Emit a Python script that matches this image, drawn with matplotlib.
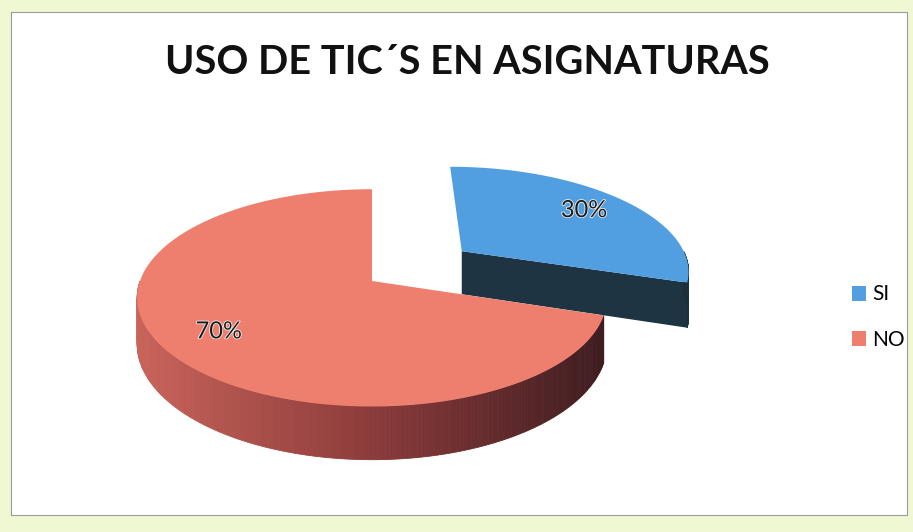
import numpy as np
import matplotlib
matplotlib.use('Agg')
import matplotlib.pyplot as plt
from matplotlib.patches import Polygon, Rectangle, Patch
from matplotlib.colors import LinearSegmentedColormap
import matplotlib.patheffects as pe

# chart data
categories = ['SI', 'NO']
values = [30, 70]
explode = [0.5, 0.0]
top_colors = ['#519fe1', '#ee7f6e']
title = 'USO DE TIC´S EN ASIGNATURAS'

# layout of the 3d pie, in pixels of the 913x532 picture
CX, CY = 372, 281      # centre of the top face
RX, RY = 232, 106      # radii
K = 0.155              # perspective strength
H = 45                 # thickness
LABEL_R = 0.76

side_no = LinearSegmentedColormap.from_list('side_no', ['#c9645a', '#8c3b3b', '#3d1c20'])
side_si = LinearSegmentedColormap.from_list('side_si', ['#22394a', '#1c2f3a'])
side_maps = [side_si, side_no]


def proj(X, Y, Z=0.0):
    # X right, Y toward viewer, Z up (top face at 0, bottom at -1)
    w = 1.0 / (1.0 - K * Y)
    return CX + RX * X * w, CY + (RY * Y - H * Z) * w


fig = plt.figure(figsize=(9.13, 5.32), dpi=100, facecolor='#eff7d3')
ax = fig.add_axes([0, 0, 1, 1])
ax.set_xlim(0, 913)
ax.set_ylim(532, 0)
ax.axis('off')
ax.add_patch(Rectangle((11, 12), 896, 503, facecolor='white', edgecolor='#9a9a9a', lw=0.8))

# slice geometry: start at 12 o'clock, go clockwise
total = float(sum(values))
slices = []
start = 90.0
for i, v in enumerate(values):
    a0 = start
    a1 = start - v / total * 360.0
    mid = np.radians((a0 + a1) / 2)
    ox = explode[i] * np.cos(mid)
    oy = -explode[i] * np.sin(mid)
    slices.append(dict(i=i, a0=a0, a1=a1, mid=mid, ox=ox, oy=oy))
    start = a1

# draw back slices first
for s in sorted(slices, key=lambda d: d['oy']):
    i, a0, a1, ox, oy = s['i'], s['a0'], s['a1'], s['ox'], s['oy']
    th = np.radians(np.linspace(a1, a0, 300))
    rimX = ox + np.cos(th)
    rimY = oy - np.sin(th)
    cmap = side_maps[i]

    # radial wall on the a1 edge
    if np.cos(np.radians(a1)) > 1e-6:
        ex, ey = ox + np.cos(np.radians(a1)), oy - np.sin(np.radians(a1))
        pts = [proj(ox, oy, 0), proj(ex, ey, 0), proj(ex, ey, -1), proj(ox, oy, -1)]
        ax.add_patch(Polygon(pts, closed=True, facecolor=cmap(0.5), edgecolor='none', zorder=2))
    # radial wall on the a0 edge
    if -np.cos(np.radians(a0)) > 1e-6:
        ex, ey = ox + np.cos(np.radians(a0)), oy - np.sin(np.radians(a0))
        pts = [proj(ox, oy, 0), proj(ex, ey, 0), proj(ex, ey, -1), proj(ox, oy, -1)]
        ax.add_patch(Polygon(pts, closed=True, facecolor=cmap(0.5), edgecolor='none', zorder=2))

    # outer curved wall, only the part facing the viewer
    facing = -np.sin(th) > 0
    xl, xr = proj(-1, 0.155)[0], proj(1, 0.155)[0]
    for j in range(len(th) - 1):
        if facing[j] and facing[j + 1]:
            p1 = proj(rimX[j], rimY[j], 0)
            p2 = proj(rimX[j + 1], rimY[j + 1], 0)
            p3 = proj(rimX[j + 1], rimY[j + 1], -1)
            p4 = proj(rimX[j], rimY[j], -1)
            t = np.clip(((p1[0] + p2[0]) / 2 - xl) / (xr - xl), 0, 1)
            ax.add_patch(Polygon([p1, p2, p3, p4], closed=True, facecolor=cmap(t),
                                 edgecolor=cmap(t), lw=0.6, zorder=2))

    # top face
    top = [proj(ox, oy, 0)] + [proj(x, y, 0) for x, y in zip(rimX, rimY)]
    ax.add_patch(Polygon(top, closed=True, facecolor=top_colors[i], edgecolor='none', zorder=3))

    # percentage label
    lr = explode[i] + LABEL_R
    lx, ly = proj(lr * np.cos(s['mid']), -lr * np.sin(s['mid']), 0)
    pct = '%d%%' % round(values[i] / total * 100)
    ax.text(lx, ly, pct, ha='center', va='center', fontsize=17, family='Lato', color='#1b1b1b',
            zorder=5, path_effects=[pe.withStroke(linewidth=1.2, foreground='#f0f0f0')])

fig.text(467 / 913, 1 - 63 / 532, title, ha='center', va='center', fontsize=28.5,
         fontweight='bold', family='Lato', color='#111111')

handles = [Patch(facecolor=c, edgecolor='none') for c in top_colors]
fig.legend(handles, categories, loc='center left', bbox_to_anchor=(833 / 913, 1 - 317 / 532),
           frameon=False, handlelength=0.7, handleheight=0.7, handletextpad=0.3,
           labelspacing=1.2, prop={'family': 'Lato', 'size': 15})

fig.savefig('out.png', dpi=100, facecolor=fig.get_facecolor())
